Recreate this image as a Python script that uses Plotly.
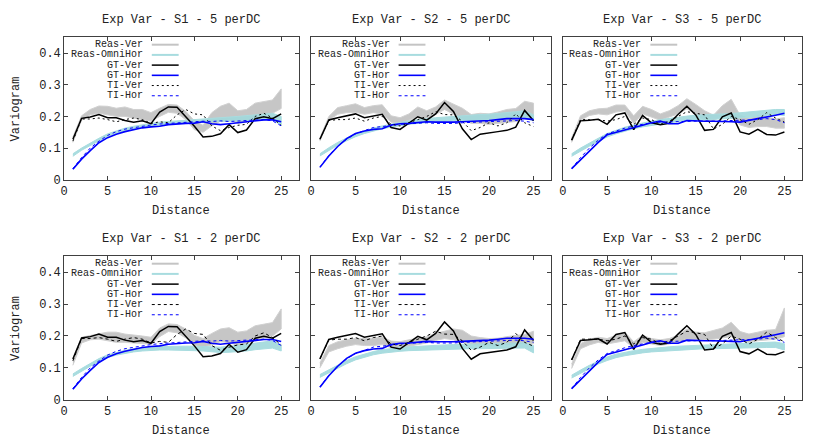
import plotly.graph_objects as go

# lag distances (x axis)
LAGS = list(range(1, 26))

# ground truth / training image variograms, one set per scenario
GT_VER_S1 = [0.128, 0.194, 0.198, 0.206, 0.196, 0.196, 0.187, 0.182, 0.186, 0.177, 0.214, 0.230, 0.229,
             0.200, 0.169, 0.135, 0.137, 0.145, 0.174, 0.149, 0.157, 0.193, 0.199, 0.193, 0.208]
GT_HOR_S1 = [0.033, 0.065, 0.092, 0.117, 0.133, 0.144, 0.152, 0.159, 0.164, 0.167, 0.169, 0.174, 0.177,
             0.178, 0.179, 0.183, 0.177, 0.174, 0.177, 0.180, 0.185, 0.186, 0.189, 0.189, 0.183]
TI_VER_S1 = [0.122, 0.192, 0.192, 0.195, 0.190, 0.183, 0.190, 0.195, 0.190, 0.178, 0.183, 0.180, 0.205,
             0.222, 0.208, 0.205, 0.170, 0.155, 0.165, 0.172, 0.175, 0.200, 0.210, 0.195, 0.172]
TI_HOR_S1 = [0.035, 0.070, 0.100, 0.122, 0.140, 0.152, 0.160, 0.165, 0.170, 0.173, 0.176, 0.178, 0.180,
             0.182, 0.183, 0.185, 0.184, 0.186, 0.184, 0.186, 0.187, 0.188, 0.190, 0.186, 0.170]

GT_VER_S2 = [0.128, 0.189, 0.196, 0.202, 0.208, 0.196, 0.202, 0.207, 0.165, 0.159, 0.179, 0.199, 0.188,
             0.208, 0.244, 0.216, 0.161, 0.127, 0.144, 0.149, 0.152, 0.156, 0.166, 0.219, 0.186]
GT_HOR_S2 = [0.039, 0.075, 0.105, 0.130, 0.146, 0.154, 0.159, 0.161, 0.173, 0.177, 0.178, 0.180, 0.183,
             0.182, 0.181, 0.182, 0.183, 0.184, 0.185, 0.187, 0.190, 0.193, 0.193, 0.193, 0.190]
TI_VER_S2 = [0.128, 0.187, 0.190, 0.190, 0.195, 0.185, 0.195, 0.200, 0.175, 0.170, 0.180, 0.190, 0.200,
             0.215, 0.206, 0.205, 0.185, 0.155, 0.165, 0.180, 0.170, 0.180, 0.208, 0.180, 0.168]
TI_HOR_S2 = [0.040, 0.076, 0.106, 0.128, 0.145, 0.156, 0.165, 0.168, 0.172, 0.175, 0.177, 0.178, 0.180,
             0.178, 0.177, 0.178, 0.180, 0.181, 0.182, 0.183, 0.184, 0.185, 0.187, 0.185, 0.180]

GT_VER_S3 = [0.125, 0.186, 0.188, 0.191, 0.175, 0.205, 0.211, 0.158, 0.203, 0.180, 0.174, 0.178, 0.206,
             0.232, 0.205, 0.156, 0.159, 0.199, 0.211, 0.151, 0.144, 0.159, 0.143, 0.141, 0.151]
GT_HOR_S3 = [0.035, 0.063, 0.092, 0.118, 0.142, 0.149, 0.156, 0.165, 0.172, 0.180, 0.185, 0.177, 0.177,
             0.187, 0.185, 0.185, 0.185, 0.183, 0.183, 0.182, 0.187, 0.194, 0.198, 0.204, 0.210]
TI_VER_S3 = [0.125, 0.190, 0.190, 0.190, 0.185, 0.190, 0.200, 0.175, 0.195, 0.190, 0.175, 0.185, 0.200,
             0.215, 0.210, 0.205, 0.160, 0.175, 0.200, 0.190, 0.175, 0.190, 0.212, 0.195, 0.182]
TI_HOR_S3 = [0.035, 0.070, 0.100, 0.125, 0.145, 0.155, 0.163, 0.170, 0.176, 0.180, 0.182, 0.183, 0.184,
             0.185, 0.185, 0.186, 0.185, 0.186, 0.187, 0.188, 0.188, 0.190, 0.193, 0.190, 0.180]

# envelope (min / max) of the realisation variograms per panel
VER_LO_S1_5 = [0.118, 0.188, 0.205, 0.210, 0.205, 0.200, 0.200, 0.195, 0.190, 0.185, 0.200, 0.213, 0.210,
               0.190, 0.158, 0.150, 0.170, 0.185, 0.190, 0.178, 0.182, 0.198, 0.205, 0.210, 0.225]
VER_HI_S1_5 = [0.135, 0.202, 0.222, 0.233, 0.232, 0.226, 0.230, 0.222, 0.222, 0.212, 0.226, 0.238, 0.236,
               0.216, 0.186, 0.172, 0.212, 0.232, 0.242, 0.218, 0.222, 0.242, 0.246, 0.252, 0.287]
HOR_LO_S1_5 = [0.074, 0.093, 0.108, 0.123, 0.137, 0.147, 0.154, 0.160, 0.165, 0.169, 0.172, 0.175, 0.177,
               0.179, 0.181, 0.182, 0.183, 0.184, 0.185, 0.186, 0.187, 0.188, 0.190, 0.190, 0.172]
HOR_HI_S1_5 = [0.082, 0.100, 0.116, 0.131, 0.145, 0.155, 0.163, 0.169, 0.174, 0.178, 0.182, 0.185, 0.188,
               0.190, 0.192, 0.193, 0.194, 0.196, 0.198, 0.200, 0.202, 0.204, 0.207, 0.210, 0.200]

VER_LO_S2_5 = [0.122, 0.188, 0.207, 0.212, 0.213, 0.207, 0.212, 0.208, 0.182, 0.178, 0.188, 0.198, 0.193,
               0.206, 0.222, 0.208, 0.192, 0.178, 0.178, 0.175, 0.178, 0.180, 0.184, 0.198, 0.200]
VER_HI_S2_5 = [0.132, 0.200, 0.228, 0.234, 0.240, 0.228, 0.234, 0.237, 0.202, 0.196, 0.208, 0.230, 0.218,
               0.230, 0.252, 0.238, 0.226, 0.206, 0.210, 0.208, 0.214, 0.222, 0.225, 0.248, 0.242]
HOR_LO_S2_5 = [0.075, 0.093, 0.109, 0.123, 0.136, 0.146, 0.154, 0.161, 0.166, 0.171, 0.175, 0.178, 0.181,
               0.183, 0.185, 0.186, 0.186, 0.187, 0.188, 0.189, 0.190, 0.192, 0.194, 0.196, 0.186]
HOR_HI_S2_5 = [0.082, 0.101, 0.118, 0.132, 0.145, 0.155, 0.163, 0.170, 0.176, 0.181, 0.186, 0.190, 0.193,
               0.196, 0.200, 0.202, 0.203, 0.204, 0.206, 0.207, 0.209, 0.212, 0.215, 0.218, 0.205]

VER_LO_S3_5 = [0.118, 0.188, 0.203, 0.208, 0.205, 0.214, 0.218, 0.178, 0.208, 0.198, 0.188, 0.198, 0.208,
               0.224, 0.208, 0.188, 0.186, 0.203, 0.208, 0.173, 0.165, 0.168, 0.168, 0.163, 0.163]
VER_HI_S3_5 = [0.132, 0.202, 0.218, 0.224, 0.226, 0.236, 0.236, 0.202, 0.232, 0.222, 0.208, 0.218, 0.234,
               0.256, 0.238, 0.218, 0.204, 0.234, 0.254, 0.204, 0.194, 0.202, 0.198, 0.192, 0.196]
HOR_LO_S3_5 = [0.074, 0.091, 0.106, 0.121, 0.135, 0.145, 0.154, 0.161, 0.167, 0.172, 0.176, 0.180, 0.183,
               0.186, 0.189, 0.190, 0.191, 0.192, 0.193, 0.195, 0.197, 0.200, 0.203, 0.206, 0.203]
HOR_HI_S3_5 = [0.082, 0.100, 0.116, 0.131, 0.146, 0.156, 0.166, 0.173, 0.180, 0.185, 0.190, 0.194, 0.198,
               0.201, 0.204, 0.206, 0.207, 0.208, 0.209, 0.211, 0.213, 0.216, 0.219, 0.222, 0.222]

VER_LO_S1_2 = [0.108, 0.178, 0.188, 0.190, 0.185, 0.180, 0.180, 0.178, 0.175, 0.174, 0.198, 0.214, 0.210,
               0.194, 0.170, 0.165, 0.172, 0.182, 0.180, 0.170, 0.175, 0.188, 0.195, 0.200, 0.222]
VER_HI_S1_2 = [0.130, 0.196, 0.202, 0.207, 0.212, 0.212, 0.206, 0.202, 0.200, 0.196, 0.225, 0.238, 0.236,
               0.222, 0.202, 0.192, 0.208, 0.222, 0.226, 0.212, 0.216, 0.232, 0.236, 0.242, 0.285]
HOR_LO_S1_2 = [0.073, 0.090, 0.105, 0.120, 0.132, 0.140, 0.146, 0.150, 0.153, 0.155, 0.156, 0.156, 0.156,
               0.155, 0.154, 0.153, 0.150, 0.148, 0.149, 0.150, 0.153, 0.157, 0.160, 0.162, 0.153]
HOR_HI_S1_2 = [0.081, 0.098, 0.114, 0.129, 0.141, 0.149, 0.155, 0.160, 0.163, 0.165, 0.167, 0.168, 0.168,
               0.168, 0.168, 0.168, 0.166, 0.165, 0.168, 0.170, 0.174, 0.178, 0.181, 0.185, 0.172]

VER_LO_S2_2 = [0.100, 0.150, 0.160, 0.168, 0.173, 0.170, 0.170, 0.173, 0.163, 0.163, 0.168, 0.173, 0.178,
               0.186, 0.192, 0.188, 0.182, 0.174, 0.172, 0.170, 0.170, 0.174, 0.175, 0.178, 0.175]
VER_HI_S2_2 = [0.115, 0.170, 0.182, 0.188, 0.192, 0.192, 0.193, 0.197, 0.184, 0.182, 0.188, 0.194, 0.198,
               0.208, 0.215, 0.222, 0.218, 0.200, 0.195, 0.192, 0.193, 0.198, 0.202, 0.205, 0.215]
HOR_LO_S2_2 = [0.070, 0.085, 0.100, 0.113, 0.125, 0.134, 0.141, 0.146, 0.150, 0.152, 0.154, 0.155, 0.157,
               0.158, 0.159, 0.160, 0.160, 0.160, 0.160, 0.161, 0.161, 0.162, 0.162, 0.162, 0.147]
HOR_HI_S2_2 = [0.079, 0.094, 0.109, 0.123, 0.135, 0.144, 0.151, 0.157, 0.161, 0.164, 0.166, 0.168, 0.170,
               0.171, 0.172, 0.173, 0.174, 0.175, 0.175, 0.176, 0.177, 0.178, 0.178, 0.179, 0.170]

VER_LO_S3_2 = [0.098, 0.160, 0.172, 0.180, 0.175, 0.180, 0.185, 0.162, 0.180, 0.175, 0.170, 0.175, 0.180,
               0.190, 0.188, 0.188, 0.190, 0.195, 0.198, 0.185, 0.180, 0.185, 0.188, 0.190, 0.198]
VER_HI_S3_2 = [0.112, 0.176, 0.190, 0.196, 0.192, 0.202, 0.212, 0.182, 0.202, 0.192, 0.188, 0.192, 0.202,
               0.222, 0.212, 0.210, 0.218, 0.225, 0.243, 0.214, 0.206, 0.212, 0.218, 0.220, 0.288]
HOR_LO_S3_2 = [0.068, 0.083, 0.098, 0.112, 0.123, 0.132, 0.138, 0.143, 0.147, 0.150, 0.152, 0.154, 0.156,
               0.158, 0.159, 0.160, 0.160, 0.161, 0.161, 0.162, 0.162, 0.163, 0.164, 0.164, 0.156]
HOR_HI_S3_2 = [0.077, 0.093, 0.108, 0.122, 0.134, 0.143, 0.149, 0.154, 0.158, 0.161, 0.164, 0.166, 0.168,
               0.170, 0.172, 0.173, 0.174, 0.175, 0.176, 0.177, 0.178, 0.179, 0.180, 0.181, 0.176]

GT = {
    "S1": (GT_VER_S1, GT_HOR_S1, TI_VER_S1, TI_HOR_S1),
    "S2": (GT_VER_S2, GT_HOR_S2, TI_VER_S2, TI_HOR_S2),
    "S3": (GT_VER_S3, GT_HOR_S3, TI_VER_S3, TI_HOR_S3),
}
REAS = {
    ("S1", "5"): (VER_LO_S1_5, VER_HI_S1_5, HOR_LO_S1_5, HOR_HI_S1_5),
    ("S2", "5"): (VER_LO_S2_5, VER_HI_S2_5, HOR_LO_S2_5, HOR_HI_S2_5),
    ("S3", "5"): (VER_LO_S3_5, VER_HI_S3_5, HOR_LO_S3_5, HOR_HI_S3_5),
    ("S1", "2"): (VER_LO_S1_2, VER_HI_S1_2, HOR_LO_S1_2, HOR_HI_S1_2),
    ("S2", "2"): (VER_LO_S2_2, VER_HI_S2_2, HOR_LO_S2_2, HOR_HI_S2_2),
    ("S3", "2"): (VER_LO_S3_2, VER_HI_S3_2, HOR_LO_S3_2, HOR_HI_S3_2),
}
PANELS = [("S1", "5"), ("S2", "5"), ("S3", "5"), ("S1", "2"), ("S2", "2"), ("S3", "2")]

LEGEND = ["Reas-Ver", "Reas-OmniHor", "GT-Ver", "GT-Hor", "TI-Ver", "TI-Hor"]

W, H = 830, 447
COL_L = [60.5, 308.5, 561.5]
COL_R = [296, 550, 802]
ROW_T = [38, 261]
ROW_B = [183, 407]

FONT = "Liberation Mono"
TXT = "#222"
GRAY = "#c4c4c4"
CYAN = "#a8dcdf"
BORDER = "#404040"

fig = go.Figure()
annotations = []
shapes = []


def px(x):
    return x / W


def py(y):
    return 1 - y / H


def label(text, x, y, size=12, xanchor="center", angle=0):
    return dict(text=text, x=px(x), y=py(y), xref="paper", yref="paper", xanchor=xanchor,
                yanchor="middle", showarrow=False, textangle=angle,
                font=dict(family=FONT, size=size, color=TXT))


for i, (sc, dc) in enumerate(PANELS):
    r, c = i // 3, i % 3
    suf = "" if i == 0 else str(i + 1)
    xa, ya = "x" + suf, "y" + suf
    gt_ver, gt_hor, ti_ver, ti_hor = GT[sc]
    ver_lo, ver_hi, hor_lo, hor_hi = REAS[(sc, dc)]
    ti_dash = "2px,3px" if r == 0 else "3px,3px"

    # realisation envelopes
    fig.add_trace(go.Scatter(x=LAGS + LAGS[::-1], y=ver_lo + ver_hi[::-1], fill="toself",
                             fillcolor="rgba(188,188,188,0.85)", line=dict(color="#d0d0d0", width=1),
                             mode="lines", xaxis=xa, yaxis=ya, showlegend=False))
    fig.add_trace(go.Scatter(x=LAGS + LAGS[::-1], y=hor_lo + hor_hi[::-1], fill="toself",
                             fillcolor="rgba(160,216,220,0.9)", line=dict(color=CYAN, width=1),
                             mode="lines", xaxis=xa, yaxis=ya, showlegend=False))
    # reference curves
    fig.add_trace(go.Scatter(x=LAGS, y=gt_ver, mode="lines", line=dict(color="black", width=1.5),
                             xaxis=xa, yaxis=ya, showlegend=False))
    fig.add_trace(go.Scatter(x=LAGS, y=gt_hor, mode="lines", line=dict(color="#0000ff", width=1.6),
                             xaxis=xa, yaxis=ya, showlegend=False))
    fig.add_trace(go.Scatter(x=LAGS, y=ti_ver, mode="lines", line=dict(color="black", width=1, dash=ti_dash),
                             xaxis=xa, yaxis=ya, showlegend=False))
    fig.add_trace(go.Scatter(x=LAGS, y=ti_hor, mode="lines",
                             line=dict(color="#0000ff", width=1, dash="3px,3px"),
                             xaxis=xa, yaxis=ya, showlegend=False))

    axis_common = dict(showline=True, mirror="ticks", linecolor=BORDER, linewidth=1, ticks="inside",
                       ticklen=4, tickcolor=BORDER, showgrid=False, zeroline=False,
                       tickfont=dict(family=FONT, size=12, color=TXT))
    fig.update_layout({
        "xaxis" + suf: dict(axis_common, domain=[px(COL_L[c]), px(COL_R[c])], range=[0, 27],
                            tickvals=[0, 5, 10, 15, 20, 25], anchor=ya),
        "yaxis" + suf: dict(axis_common, domain=[py(ROW_B[r]), py(ROW_T[r])], range=[0, 0.45],
                            tickvals=[0, 0.1, 0.2, 0.3, 0.4], ticktext=["0", "0.1", "0.2", "0.3", "0.4"],
                            showticklabels=(c == 0), anchor=xa),
    })

    cx = (COL_L[c] + COL_R[c]) / 2
    annotations.append(label("Exp Var - %s - %s perDC" % (sc, dc), cx, ROW_T[r] - 18))
    annotations.append(label("Distance", cx, ROW_B[r] + 32))
    if c == 0:
        annotations.append(label("Variogram", 12, (ROW_T[r] + ROW_B[r]) / 2, angle=-90))

    # gnuplot style key: label right-aligned, sample line on the right
    styles = [dict(color=GRAY, width=2), dict(color=CYAN, width=2), dict(color="black", width=1.5),
              dict(color="#0000ff", width=1.6), dict(color="black", width=1, dash=ti_dash),
              dict(color="#0000ff", width=1, dash="3px,3px")]
    for k, name in enumerate(LEGEND):
        yk = ROW_T[r] + 7.5 + k * 10.4
        annotations.append(label(name, COL_L[c] + 81, yk, size=10, xanchor="right"))
        shapes.append(dict(type="line", xref="paper", yref="paper", x0=px(COL_L[c] + 88),
                           x1=px(COL_L[c] + 115), y0=py(yk), y1=py(yk), line=styles[k]))

fig.update_layout(width=W, height=H, margin=dict(l=0, r=0, t=0, b=0), autosize=False,
                  paper_bgcolor="white", plot_bgcolor="white", showlegend=False, hovermode=False,
                  annotations=annotations, shapes=shapes)

# the page body has a default 8px margin; drop it so the figure sits at the window origin
fig.write_html("out.html", config={"displayModeBar": False, "staticPlot": True},
               post_script="document.body.style.margin='0';")
